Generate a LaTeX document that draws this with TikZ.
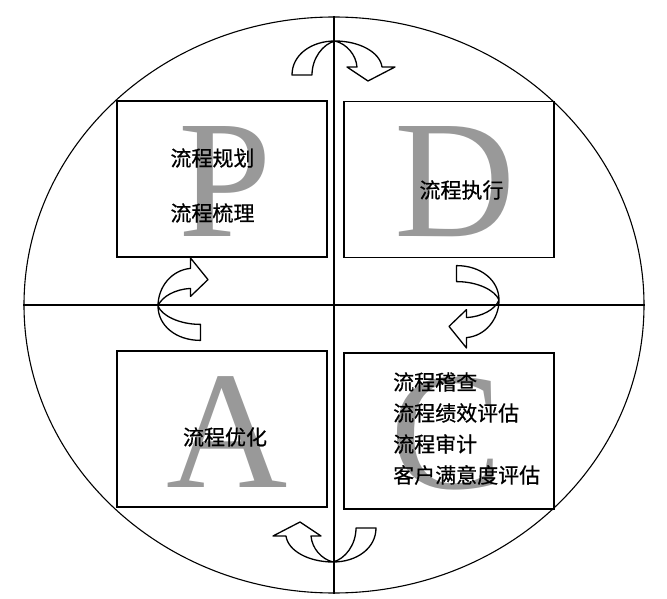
\documentclass[tikz,border=0pt]{standalone}
\usepackage{fontspec}
\setmainfont{Liberation Serif}
\newfontfamily\cjk[FakeBold=0.6]{Noto Sans CJK SC}
\usetikzlibrary{shapes.geometric}
\newcommand\pdcaarrow[1]{%
  \draw[cyc,#1] (-43,-34) .. controls (-43,-14) and (-24,0) .. (0,0)
    .. controls (24,0) and (45,-11) .. (47,-26)
    -- (60,-26) -- (33,-40) -- (12,-26) -- (22,-26)
    .. controls (21,-14) and (12,-3) .. (0,0)
    .. controls (-12,-3) and (-23,-17) .. (-23,-34) -- cycle;}
\begin{document}
\begin{tikzpicture}[x=1pt,y=1pt,
  frame/.style={draw, line width=1.3pt, minimum width=210pt, minimum height=156pt, inner sep=0pt},
  bigletter/.style={text=black!40, font=\fontsize{168}{168}\selectfont, inner sep=0pt, anchor=base},
  cjktext/.style={font=\cjk\fontsize{21}{21}\selectfont, inner sep=0pt, text=black},
  thin/.style={line width=1.1pt},
  cyc/.style={draw, line width=1.3pt, line join=round}]
\useasboundingbox (0,0) rectangle (667,598);
\node[ellipse, draw, thin, minimum width=620pt, minimum height=576pt, inner sep=0pt] (circ) at (334,293) {};
\draw[thin] (circ.north) -- (circ.south);
\draw[thin] (circ.west) -- (circ.east);
% boxes
\node[frame] (pbox) at (222,419) {};
\node[frame] (dbox) at (449,418.5) {};
\node[frame] (abox) at (222,169) {};
\node[frame] (cbox) at (449,167) {};
% big letters
\node[bigletter] (pl) at (225,361) {P};
\node[bigletter] (dl) at (455,361) {D};
\node[bigletter] (al) at (227.5,111) {A};
\node[bigletter] (cl) at (447,110) {C};
% texts
\node[cjktext] (t1) at (212.5,440) {流程规划};
\node[cjktext] (t2) at (212.5,385) {流程梳理};
\node[cjktext] (t3) at (461.5,408) {流程执行};
\node[cjktext] (t4) at (225,161) {流程优化};
\node[cjktext, anchor=west] (t5) at (393,216) {流程稽查};
\node[cjktext, anchor=west] (t6) at (393,185) {流程绩效评估};
\node[cjktext, anchor=west] (t7) at (393,154) {流程审计};
\node[cjktext, anchor=west] (t8) at (393,123) {客户满意度评估};
% cycle arrows
\pdcaarrow{shift={(335,557)}}
\pdcaarrow{shift={(499,298)}, rotate=-90, xscale=0.8, yscale=1.25}
\pdcaarrow{shift={(333,36)}, rotate=180}
\pdcaarrow{shift={(158,292)}, rotate=90, xscale=0.8, yscale=1.25}
\end{tikzpicture}
\end{document}
